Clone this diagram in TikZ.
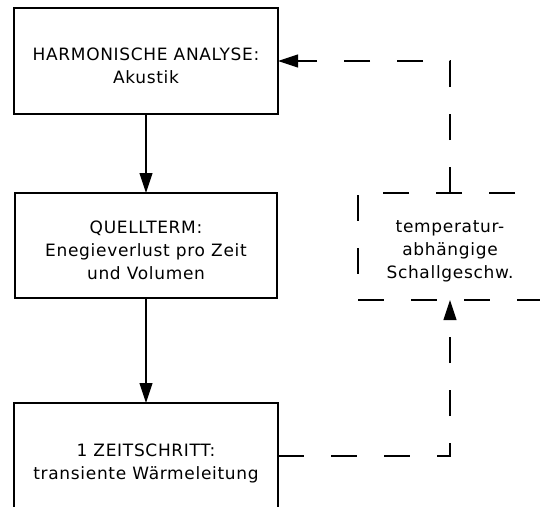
\documentclass[tikz,border=0pt]{standalone}
\usepackage{fontspec}
\setmainfont{DejaVu Sans}[LetterSpace=4]
\usetikzlibrary{arrows.meta}
\begin{document}
\begin{tikzpicture}[x=1pt,y=-1pt,
  box/.style={draw, line width=1.1pt, inner sep=0pt, outer sep=0pt, minimum width=264pt, minimum height=106pt},
  dbox/.style={draw, line width=1.1pt, dash pattern=on 26pt off 27pt, inner sep=0pt, outer sep=0pt, minimum width=184pt, minimum height=107pt},
  txt/.style={align=center, font=\fontsize{17}{23}\selectfont, inner sep=0pt},
  conn/.style={line width=1.1pt, -{Triangle[length=20pt,width=13pt]}},
  dconn/.style={conn, dash pattern=on 26pt off 27pt}]
\clip (0,0) rectangle (540,506);
\node[box] (b1) at (146,61) {};
\node[box, minimum width=262pt, minimum height=105pt] (b2) at (146,245.5) {};
\node[box] (b3) at (146,456) {};
\node[dbox] (db) at (450,246.5) {};
\node[txt] (t1) at ([yshift=-4.5pt]b1.center) {HARMONISCHE ANALYSE:\\Akustik};
\node[txt] (t2) at ([yshift=-4.5pt]b2.center) {QUELLTERM:\\Enegieverlust pro Zeit\\und Volumen};
\node[txt] (t3) at ([yshift=-7pt]b3.center) {1 ZEITSCHRITT:\\transiente Wärmeleitung};
\node[txt] (t4) at ([yshift=-4.5pt]db.center) {temperatur-\\abhängige\\Schallgeschw.};
\draw[conn] (b1.south) -- (b2.north);
\draw[conn] (b2.south) -- (b3.north);
\draw[dconn] (db.north) |- (b1.east);
\draw[dconn] (b3.east) -| (db.south);
\end{tikzpicture}
\end{document}
